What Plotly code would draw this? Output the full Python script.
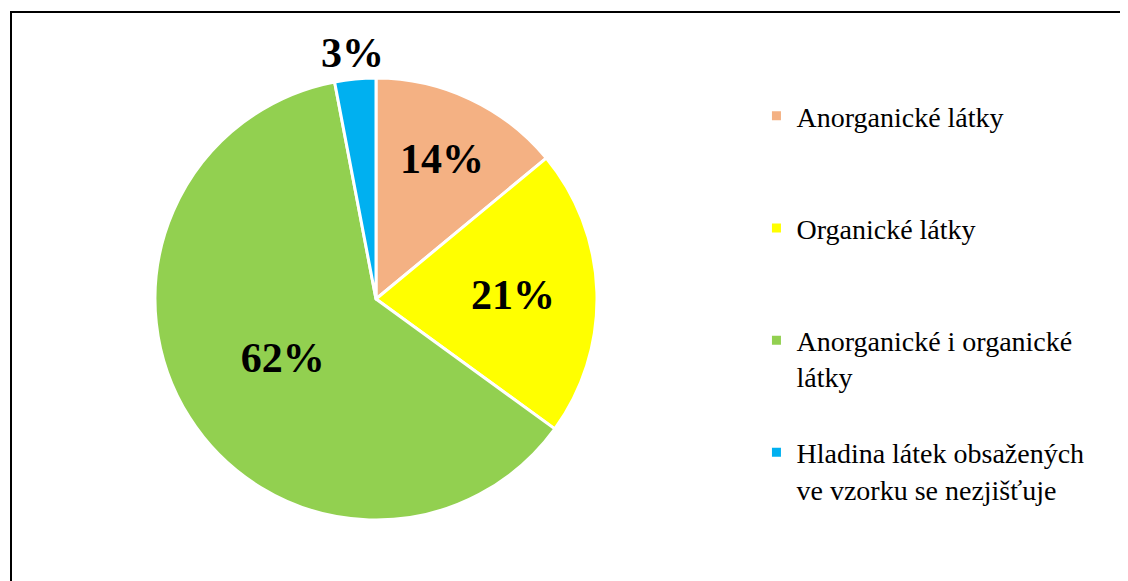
import math
import plotly.graph_objects as go

categories = ["Anorganické látky", "Organické látky", "Anorganické i organické<br>látky",
              "Hladina látek obsažených<br>ve vzorku se nezjišťuje"]
values = [14, 21, 62, 3]
colors = ["#F4B183", "#FFFF00", "#92D050", "#00B0F0"]

FONT = "Times New Roman, Liberation Serif, serif"
W, H = 1128, 581
OFF = 8  # page body margin offset

# pie geometry (paper fractions)
cx, cy, R = (376 - OFF) / W, (581 - (299 - OFF)) / H, 221
dom_x = [cx - R / W, cx + R / W]
dom_y = [cy - R / H, cy + R / H]

total = sum(values)
pct_text = [f"{round(v / total * 100)}%" for v in values]
inside_text = pct_text[:3] + [""]

legend_labels = [categories[0] + "<br> <br> ", categories[1] + "<br> <br> ",
                 categories[2] + "<br> ", categories[3]]

fig = go.Figure(go.Pie(
    labels=legend_labels,
    values=values,
    sort=False,
    direction="clockwise",
    rotation=0,
    marker=dict(colors=colors, line=dict(color="white", width=3)),
    text=inside_text,
    textinfo="text",
    textposition="inside",
    insidetextorientation="horizontal",
    textfont=dict(family=FONT, size=42, color="black", weight="bold"),
    domain=dict(x=dom_x, y=dom_y),
    hoverinfo="label+percent",
))

# outside label for the small last slice, placed along its mid angle
mid = (total - values[-1] / 2) / total * 2 * math.pi
rr = 1.12 * R
fig.add_annotation(
    x=cx + rr * math.sin(mid) / W, y=cy + rr * math.cos(mid) / H,
    xref="paper", yref="paper", xanchor="center", yanchor="middle",
    text=pct_text[-1], showarrow=False,
    font=dict(family=FONT, size=42, color="black", weight="bold"),
)

fig.update_layout(
    width=W, height=H,
    margin=dict(l=0, r=0, t=0, b=0),
    paper_bgcolor="white",
    plot_bgcolor="white",
    showlegend=True,
    legend=dict(
        x=0.6715 - 9 / W, y=0.845 + (OFF - 1) / H, xanchor="left", yanchor="top",
        font=dict(family=FONT, size=28, color="black"),
        valign="top",
        itemwidth=30,
        tracegroupgap=0,
    ),
    shapes=[dict(type="rect", xref="paper", yref="paper",
                 x0=(11 - OFF) / W, x1=1.02, y0=-0.05, y1=1 - (12 - OFF) / H,
                 line=dict(color="black", width=2), layer="below")],
)

fig.write_html("out.html")
